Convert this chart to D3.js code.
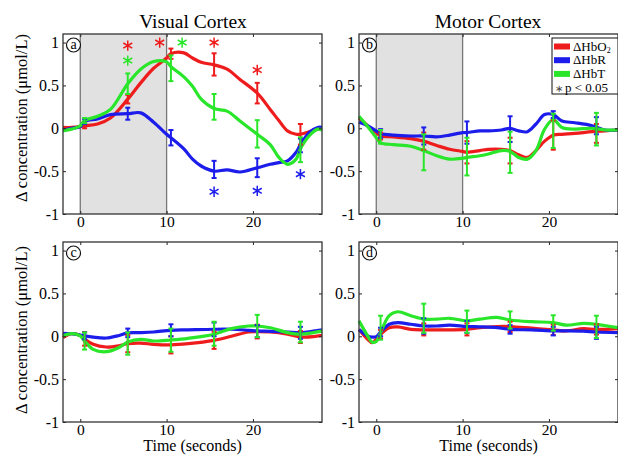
<!DOCTYPE html>
<html>
<head>
<meta charset="utf-8">
<script src="https://cdn.jsdelivr.net/npm/d3@7"></script>
<style>
  body { margin: 0; background: #fff; }
  svg { display: block; font-family: "Liberation Serif", "Times New Roman", serif; }
</style>
</head>
<body>
<div id="chart"></div>
<script>
// ---- data ----
// panel a: visual cortex, top row
const aTime = [-2, -1, 0, 0.5, 2, 3.5, 5.5, 7, 8.5, 10, 10.5, 12, 13, 14, 15.5, 17, 18.5, 20.5, 22, 23, 24, 25, 25.5, 26.5, 27.5, 28];
const aHbO = [0.01, 0.01, 0.02, 0.03, 0.05, 0.12, 0.34, 0.53, 0.7, 0.82, 0.87, 0.88, 0.82, 0.77, 0.74, 0.69, 0.57, 0.41, 0.22, 0.09, -0.03, -0.07, -0.07, -0.04, -0.01, -0.01];
const aHbR = [-0.02, 0, 0.02, 0.08, 0.11, 0.16, 0.17, 0.18, 0.07, -0.07, -0.11, -0.24, -0.36, -0.44, -0.5, -0.485, -0.51, -0.46, -0.42, -0.4, -0.38, -0.28, -0.19, -0.05, 0.01, 0.01];
const aHbT = [-0.03, -0.01, 0.03, 0.09, 0.14, 0.22, 0.52, 0.69, 0.78, 0.775, 0.72, 0.6, 0.49, 0.34, 0.23, 0.2, 0.085, -0.07, -0.19, -0.34, -0.42, -0.36, -0.24, -0.09, -0.01, -0.02];

// panel b: motor cortex, top row
const bTime = [-2, -1, 0, 0.5, 2, 4, 5.5, 7, 8.5, 10, 10.5, 12, 13, 14.5, 15.5, 16.5, 17.5, 18.5, 19.5, 20.5, 21.5, 23, 25, 26.5, 28];
const bHbO = [0.12, 0.03, -0.05, -0.09, -0.1, -0.12, -0.15, -0.2, -0.245, -0.27, -0.28, -0.26, -0.245, -0.245, -0.26, -0.31, -0.34, -0.26, -0.15, -0.08, -0.07, -0.06, -0.04, -0.03, -0.02];
const bHbR = [0.07, 0.03, -0.03, -0.06, -0.08, -0.09, -0.09, -0.1, -0.08, -0.05, -0.05, -0.03, -0.03, -0.02, 0, -0.03, -0.04, 0.05, 0.16, 0.16, 0.085, 0.065, 0.03, -0.02, -0.02];
const bHbT = [0.14, 0.02, -0.11, -0.17, -0.19, -0.21, -0.26, -0.32, -0.36, -0.35, -0.34, -0.32, -0.3, -0.26, -0.27, -0.34, -0.36, -0.26, -0.01, 0.1, 0.01, -0.01, 0, -0.02, -0.02];

// panel c: visual cortex, bottom row
const cTime = [-2, -1, 0, 0.5, 1.5, 3, 4.5, 5.5, 7, 8.5, 10.5, 12.5, 15.5, 17.5, 19.5, 20.5, 22, 24, 25.5, 27, 28];
const cHbO = [-0.016, 0.03, 0.01, -0.03, -0.094, -0.125, -0.11, -0.086, -0.08, -0.094, -0.1, -0.086, -0.047, 0, 0.05, 0.055, 0.05, 0.024, -0.008, -0.004, 0.012];
const cHbR = [0.035, 0.03, 0.015, 0.005, -0.01, -0.02, 0.01, 0.04, 0.043, 0.05, 0.07, 0.075, 0.082, 0.082, 0.07, 0.063, 0.058, 0.05, 0.043, 0.06, 0.075];
const cHbT = [0.004, 0.03, 0.004, -0.055, -0.153, -0.18, -0.13, -0.067, -0.035, -0.055, -0.043, -0.024, 0.024, 0.09, 0.12, 0.12, 0.1, 0.043, 0.024, 0.043, 0.06];

// panel d: motor cortex, bottom row
const dTime = [-2, -1, -0.5, 0, 0.5, 1.5, 2.5, 4, 5.5, 7, 8.5, 10.5, 12, 14, 15.5, 18, 20.5, 22, 24, 25.5, 28];
const dHbO = [0.08, -0.035, -0.075, -0.035, 0.024, 0.1, 0.11, 0.08, 0.075, 0.075, 0.075, 0.08, 0.1, 0.114, 0.114, 0.095, 0.075, 0.063, 0.09, 0.08, 0.09];
const dHbR = [0.08, 0.004, -0.01, -0.004, 0.05, 0.14, 0.16, 0.14, 0.12, 0.12, 0.13, 0.114, 0.11, 0.1, 0.08, 0.075, 0.063, 0.063, 0.06, 0.05, 0.043];
const dHbT = [0.18, 0.004, -0.067, -0.06, 0.043, 0.24, 0.286, 0.24, 0.2, 0.2, 0.21, 0.18, 0.2, 0.22, 0.19, 0.17, 0.16, 0.13, 0.15, 0.14, 0.1];

// error bars (mean, half-width) at these times
const barTime = [0.5, 5.5, 10.5, 15.5, 20.5, 25.5];
const aBarHbO = [0.03, 0.34, 0.87, 0.745, 0.41, -0.07];
const aErrHbO = [0.03, 0.05, 0.06, 0.13, 0.12, 0.12];
const aBarHbR = [0.08, 0.17, -0.11, -0.48, -0.46, -0.2];
const aErrHbR = [0.03, 0.07, 0.09, 0.1, 0.11, 0.08];
const aBarHbT = [0.09, 0.52, 0.7, 0.25, -0.065, -0.25];
const aErrHbT = [0.03, 0.12, 0.15, 0.15, 0.16, 0.145];

const bBarHbO = [-0.09, -0.15, -0.28, -0.26, -0.08, -0.06];
const bErrHbO = [0.04, 0.1, 0.13, 0.15, 0.17, 0.11];
const bBarHbR = [-0.06, -0.09, -0.05, -0.01, 0.16, 0.03];
const bErrHbR = [0.05, 0.1, 0.13, 0.15, 0.04, 0.1];
const bBarHbT = [-0.1, -0.28, -0.33, -0.28, -0.03, -0.01];
const bErrHbT = [0.08, 0.21, 0.22, 0.24, 0.2, 0.19];

const cBarHbO = [-0.03, -0.086, -0.1, -0.047, 0.055, -0.008];
const cErrHbO = [0.08, 0.1, 0.1, 0.1, 0.08, 0.07];
const cBarHbR = [0.005, 0.04, 0.07, 0.08, 0.06, 0.04];
const cErrHbR = [0.04, 0.05, 0.07, 0.08, 0.07, 0.07];
const cBarHbT = [-0.055, -0.085, -0.045, 0.03, 0.12, 0.05];
const cErrHbT = [0.1, 0.13, 0.135, 0.14, 0.13, 0.12];

const dBarHbO = [0.024, 0.08, 0.08, 0.11, 0.075, 0.08];
const dErrHbO = [0.05, 0.07, 0.07, 0.06, 0.06, 0.06];
const dBarHbR = [0.05, 0.12, 0.11, 0.08, 0.06, 0.04];
const dErrHbR = [0.05, 0.09, 0.07, 0.05, 0.05, 0.07];
const dBarHbT = [0.1, 0.21, 0.17, 0.19, 0.155, 0.11];
const dErrHbT = [0.14, 0.17, 0.13, 0.1, 0.09, 0.13];

// significance markers in panel a
const sigTime = [5.5, 5.5, 9.2, 11.8, 15.5, 20.5, 15.5, 20.5, 25.5];
const sigValue = [0.965, 0.79, 1.0, 1.0, 1.0, 0.68, -0.74, -0.73, -0.535];
const sigSeries = ["HbO", "HbT", "HbO", "HbT", "HbO", "HbO", "HbR", "HbR", "HbR"];

const xTicks = [0, 10, 20];
const yTicks = [-1, -0.5, 0, 0.5, 1];
const seriesNames = ["HbO", "HbR", "HbT"];
const legendLabels = ["ΔHbO", "ΔHbR", "ΔHbT"];

// ---- drawing ----
const width = 618;
const height = 455;
const pw = 259;
const ph = 180;

const colors = { HbO: "#ee1c1c", HbR: "#1c1ceb", HbT: "#2ae62a" };

const svg = d3
  .select("#chart")
  .append("svg")
  .attr("width", width)
  .attr("height", height);

const x = d3.scaleLinear().domain([-2, 28]).range([0, pw]);
const y = d3.scaleLinear().domain([-1, 1.1]).range([ph, 0]);

const lineGen = d3
  .line()
  .x((d) => x(d.t))
  .y((d) => y(d.v))
  .curve(d3.curveCatmullRom.alpha(0.5));

const panels = [
  { id: "a", left: 63, top: 34, shade: true, time: aTime,
    lines: { HbO: aHbO, HbR: aHbR, HbT: aHbT },
    bars: { HbO: [aBarHbO, aErrHbO], HbR: [aBarHbR, aErrHbR], HbT: [aBarHbT, aErrHbT] } },
  { id: "b", left: 359, top: 34, shade: true, time: bTime,
    lines: { HbO: bHbO, HbR: bHbR, HbT: bHbT },
    bars: { HbO: [bBarHbO, bErrHbO], HbR: [bBarHbR, bErrHbR], HbT: [bBarHbT, bErrHbT] } },
  { id: "c", left: 63, top: 242, shade: false, time: cTime,
    lines: { HbO: cHbO, HbR: cHbR, HbT: cHbT },
    bars: { HbO: [cBarHbO, cErrHbO], HbR: [cBarHbR, cErrHbR], HbT: [cBarHbT, cErrHbT] } },
  { id: "d", left: 359, top: 242, shade: false, time: dTime,
    lines: { HbO: dHbO, HbR: dHbR, HbT: dHbT },
    bars: { HbO: [dBarHbO, dErrHbO], HbR: [dBarHbR, dErrHbR], HbT: [dBarHbT, dErrHbT] } }
];

function styleAxis(sel, size) {
  sel.select(".domain").remove();
  sel
    .attr("font-family", null)
    .attr("font-size", size || 16)
    .attr("color", "#222");
  sel.selectAll("line").attr("stroke-width", 1);
  sel.selectAll("text").attr("fill", "#000");
}

// 6-arm star, same shape as d3.symbolAsterisk (fallback for older builds)
const starType = d3.symbolAsterisk || {
  draw(ctx, size) {
    const r = Math.sqrt(size) * 0.59436;
    const t = r / 2;
    const u = t * Math.sqrt(3);
    ctx.moveTo(0, r); ctx.lineTo(0, -r);
    ctx.moveTo(-u, -t); ctx.lineTo(u, t);
    ctx.moveTo(-u, t); ctx.lineTo(u, -t);
  }
};

panels.forEach((p) => {
  const g = svg.append("g").attr("transform", `translate(${p.left},${p.top})`);

  if (p.shade) {
    g.append("rect")
      .attr("x", x(0))
      .attr("y", 0)
      .attr("width", x(10) - x(0))
      .attr("height", ph)
      .attr("fill", "#e1e1e1");
    g.selectAll(".stim-line")
      .data([0, 10])
      .join("line")
      .attr("class", "stim-line")
      .attr("x1", (d) => x(d))
      .attr("x2", (d) => x(d))
      .attr("y1", 0)
      .attr("y2", ph)
      .attr("stroke", "#777")
      .attr("stroke-width", 1.3);
  }

  // curves
  seriesNames.forEach((s) => {
    const pts = p.time.map((t, i) => ({ t: t, v: p.lines[s][i] }));
    g.append("path")
      .datum(pts)
      .attr("fill", "none")
      .attr("stroke", colors[s])
      .attr("stroke-width", 3.2)
      .attr("stroke-linejoin", "round")
      .attr("d", lineGen);
  });

  // error bars
  seriesNames.forEach((s) => {
    const [means, errs] = p.bars[s];
    const bars = barTime.map((t, i) => ({ t: t, lo: means[i] - errs[i], hi: means[i] + errs[i] }));
    const eb = g.append("g").attr("stroke", colors[s]).attr("stroke-width", 2);
    eb.selectAll(".stem")
      .data(bars)
      .join("line")
      .attr("class", "stem")
      .attr("x1", (d) => x(d.t))
      .attr("x2", (d) => x(d.t))
      .attr("y1", (d) => y(d.lo))
      .attr("y2", (d) => y(d.hi));
    eb.selectAll(".cap")
      .data(bars.flatMap((d) => [{ t: d.t, v: d.lo }, { t: d.t, v: d.hi }]))
      .join("line")
      .attr("class", "cap")
      .attr("x1", (d) => x(d.t) - 2.5)
      .attr("x2", (d) => x(d.t) + 2.5)
      .attr("y1", (d) => y(d.v))
      .attr("y2", (d) => y(d.v));
  });

  // significance stars (panel a only)
  if (p.id === "a") {
    const stars = sigTime.map((t, i) => ({ t: t, v: sigValue[i], s: sigSeries[i] }));
    g.selectAll(".sig")
      .data(stars)
      .join("path")
      .attr("class", "sig")
      .attr("transform", (d) => `translate(${x(d.t)},${y(d.v)})`)
      .attr("d", d3.symbol(starType, 75))
      .attr("fill", "none")
      .attr("stroke", (d) => colors[d.s])
      .attr("stroke-width", 1.5);
  }

  // axes (inward ticks on all four sides)
  g.append("g")
    .call(d3.axisLeft(y).tickValues(yTicks).tickSize(-3).tickPadding(4).tickFormat((d) => String(d)))
    .call(styleAxis);
  g.append("g")
    .attr("transform", `translate(${pw},0)`)
    .call(d3.axisRight(y).tickValues(yTicks).tickSize(-3).tickFormat(""))
    .call(styleAxis);
  g.append("g")
    .attr("transform", `translate(0,${ph})`)
    .call(d3.axisBottom(x).tickValues(xTicks).tickSize(-3).tickPadding(1.5).tickFormat((d) => String(d)))
    .call(styleAxis, 15.5);
  g.append("g")
    .call(d3.axisTop(x).tickValues(xTicks).tickSize(-3).tickFormat(""))
    .call(styleAxis);

  g.append("rect")
    .attr("width", pw)
    .attr("height", ph)
    .attr("fill", "none")
    .attr("stroke", "#333")
    .attr("stroke-width", 1.3);

  // circled panel letter
  g.append("circle")
    .attr("cx", 10.5)
    .attr("cy", 11)
    .attr("r", 7)
    .attr("fill", "#fff")
    .attr("stroke", "#111")
    .attr("stroke-width", 1.2);
  g.append("text")
    .attr("x", 10.5)
    .attr("y", 15)
    .attr("text-anchor", "middle")
    .attr("font-size", 14)
    .text(p.id);

  if (p.id === "b") {
    const lg = g.append("g").attr("transform", `translate(${pw - 66},4)`);
    lg.append("rect")
      .attr("width", 66)
      .attr("height", 56)
      .attr("fill", "#fff")
      .attr("stroke", "#111")
      .attr("stroke-width", 1);
    seriesNames.forEach((s, i) => {
      lg.append("rect")
        .attr("x", 2)
        .attr("y", 5.5 + i * 13.7)
        .attr("width", 16)
        .attr("height", 6)
        .attr("fill", colors[s]);
      const t = lg.append("text")
        .attr("x", 21)
        .attr("y", 12.5 + i * 13.7)
        .attr("font-size", 13)
        .text(legendLabels[i]);
      if (s === "HbO") {
        t.append("tspan").attr("font-size", 8).attr("dy", 2.5).text("2");
      }
    });
    const note = lg.append("text")
      .attr("x", 3)
      .attr("y", 53.5)
      .attr("font-size", 13);
    note.append("tspan").attr("font-size", 10).attr("fill", "#444").text("∗");
    note.append("tspan").attr("dx", 2).text("p < 0.05");
  }
});

// titles
svg.append("text")
  .attr("x", 193)
  .attr("y", 28)
  .attr("text-anchor", "middle")
  .attr("font-size", 19.5)
  .text("Visual Cortex");
svg.append("text")
  .attr("x", 488)
  .attr("y", 28)
  .attr("text-anchor", "middle")
  .attr("font-size", 19.5)
  .text("Motor Cortex");

// y labels
[118, 330].forEach((cy) => {
  svg.append("text")
    .attr("transform", `translate(27,${cy}) rotate(-90)`)
    .attr("text-anchor", "middle")
    .attr("font-size", 16.5)
    .text("Δ concentration (μmol/L)");
});

// x labels
[63 + pw / 2, 359 + pw / 2].forEach((cx) => {
  svg.append("text")
    .attr("x", cx)
    .attr("y", 451.3)
    .attr("text-anchor", "middle")
    .attr("font-size", 16)
    .text("Time (seconds)");
});
</script>
</body>
</html>
